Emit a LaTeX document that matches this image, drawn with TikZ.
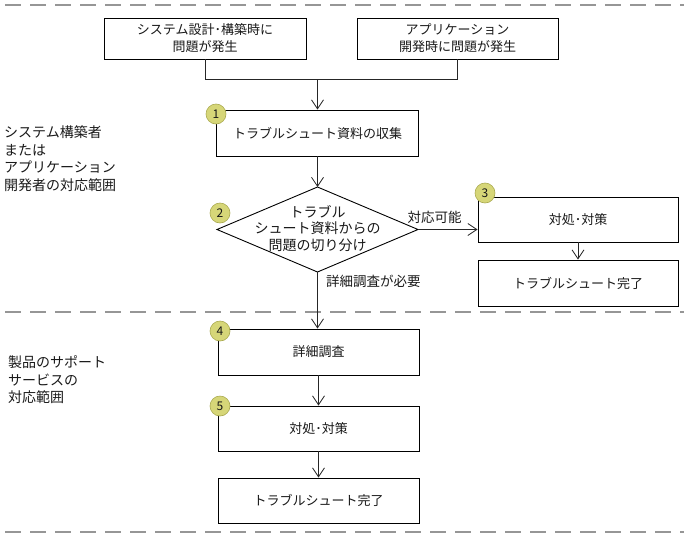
\documentclass[tikz,border=0pt]{standalone}
\usepackage{fontspec}
\setmainfont{Noto Sans CJK JP}
\usetikzlibrary{arrows.meta}
\definecolor{sepgray}{RGB}{150,150,150}
\definecolor{numfill}{RGB}{214,214,120}
\definecolor{numdraw}{RGB}{170,170,80}
\definecolor{txt}{RGB}{25,25,25}
\tikzset{
  box/.style={draw=black, line width=0.9pt, fill=white, minimum width=201pt, minimum height=45pt, inner sep=0pt, align=center, font=\fontsize{13}{17}\selectfont, text=txt},
  conn/.style={draw=black!85, line width=0.9pt},
  arr/.style={conn, -{Straight Barb[length=9pt,width=12pt,line width=0.8pt]}},
  sep/.style={draw=sepgray, line width=2pt, dash pattern=on 16pt off 9pt},
  num/.style={circle, fill=numfill, draw=numdraw, line width=0.6pt, minimum size=20pt, inner sep=0pt, font=\fontsize{12}{12}\selectfont, text=txt},
  lbl/.style={font=\fontsize{13.5}{17}\selectfont, text=txt, inner sep=0pt},
  side/.style={font=\fontsize{14}{17.7}\selectfont, text=txt, align=left, inner sep=0pt, anchor=north west}
}
\begin{document}
\begin{tikzpicture}[x=1pt,y=-1pt]
\useasboundingbox (0,0) rectangle (688,536);
% separators
\coordinate (s1a) at (5,5); \coordinate (s1b) at (684,5);
\coordinate (s2a) at (5,311.5); \coordinate (s2b) at (684,311.5);
\coordinate (s3a) at (5,531.5); \coordinate (s3b) at (684,531.5);
\draw[sep] (s1a) -- (s1b);
\draw[sep] (s2a) -- (s2b);
\draw[sep] (s3a) -- (s3b);
% side labels
\node[side] (zoneA) at (4,125.5) {システム構築者\\または\\アプリケーション\\開発者の対応範囲};
\node[side] (zoneB) at (8,355.5) {製品のサポート\\サービスの\\対応範囲};
% top boxes
\node[box, minimum width=202pt, minimum height=41pt] (boxA) at (205,38.5) {システム設計･構築時に\\問題が発生};
\node[box, minimum width=201pt, minimum height=41pt] (boxB) at (457.5,38.5) {アプリケーション\\開発時に問題が発生};
\coordinate (join) at (317.5,79);
\draw[conn] (boxA.south) |- (join);
\draw[conn] (boxB.south) |- (join);
% step 1
\node[box, minimum width=202pt, minimum height=46pt] (box1) at (317.5,133) {トラブルシュート資料の収集};
\draw[arr] (join) -- (box1.north);
% diamond
\coordinate (dT) at (317.5,187);
\coordinate (dR) at (418,229.5);
\coordinate (dB) at (317.5,272);
\coordinate (dL) at (217,229.5);
\draw[line width=0.9pt, fill=white] (dT) -- (dR) -- (dB) -- (dL) -- cycle;
\node[lbl, align=center, font=\fontsize{14}{16.5}\selectfont] (dtext) at (317.5,228.5) {トラブル\\シュート資料からの\\問題の切り分け};
\draw[arr] (box1.south) -- (dT);
% step 3
\node[box, minimum width=200pt, minimum height=45pt] (box3) at (578,219.5) {対処･対策};
\node[box, minimum width=200pt, minimum height=46pt] (box3b) at (578,283) {トラブルシュート完了};
\draw[arr] (dR) -- (dR -| box3.west) node[lbl, pos=0.28, above=5pt] (okl) {対応可能};
\draw[arr] (box3.south) -- (box3b.north);
% step 4,5
\node[box, minimum width=201pt, minimum height=46pt] (box4) at (318.5,352) {詳細調査};
\node[box, minimum width=201pt, minimum height=45pt] (box5) at (318.5,428.5) {対処･対策};
\node[box, minimum width=201pt, minimum height=45pt] (box6) at (318.5,500.5) {トラブルシュート完了};
\draw[arr] (dB) -- (dB |- box4.north);
\node[lbl, anchor=west] (needl) at (326,281) {詳細調査が必要};
\draw[arr] (box4.south) -- (box5.north);
\draw[arr] (box5.south) -- (box6.north);
% numbers
\node[num] (n1) at (216,114) {1};
\node[num] (n2) at (220,213) {2};
\node[num] (n3) at (485,193) {3};
\node[num] (n4) at (220,331) {4};
\node[num] (n5) at (220,406) {5};
\end{tikzpicture}
\end{document}
